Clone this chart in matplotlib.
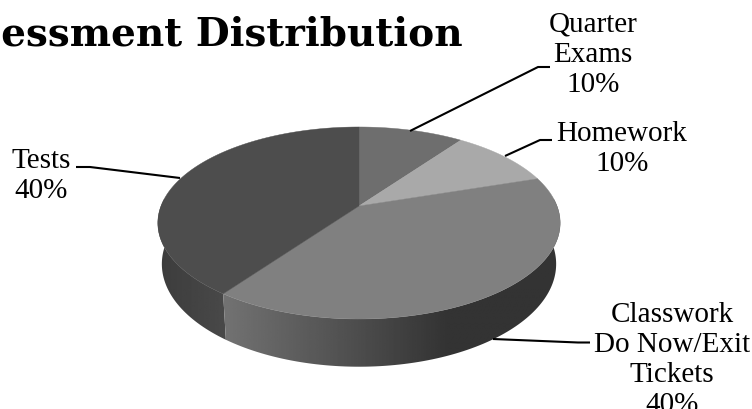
import numpy as np
import matplotlib
matplotlib.use("Agg")
import matplotlib.pyplot as plt
from matplotlib.patches import Polygon

categories = ["Quarter\nExams", "Homework", "Classwork\nDo Now/Exit\nTickets", "Tests"]
values = [10, 10, 40, 40]
top_colors = ["#6e6e6e", "#a9a9a9", "#808080", "#4d4d4d"]
title = "Assessment Distribution"

W, H = 752, 410
cx, cy = 359, 207      # apex of the pie on the canvas
K, A, B = 0.177, 93, 198
MID, DEPTH, BOT_X, BOT_Y = -17, 41, 0.98, 1.07


def project(theta, bottom=False):
    """theta in degrees, clockwise from 12 o'clock on a unit circle."""
    t = np.radians(theta)
    x, y = np.sin(t), np.cos(t)
    X = B * x / (1 + K * y)
    Y = A * y / (1 + K * y)
    if bottom:
        X, Y = BOT_X * X, BOT_Y * (Y - MID) + MID - DEPTH
    return cx + X, cy - Y


fig = plt.figure(figsize=(W / 100, H / 100), dpi=100, facecolor="white")
ax = fig.add_axes([0, 0, 1, 1])
ax.axis("off")

share = np.asarray(values, float) / sum(values) * 360
edges = np.concatenate([[0], np.cumsum(share)])


def band(a, b):
    th = np.linspace(a, b, 120)
    xt, yt = project(th)
    xb, yb = project(th, bottom=True)
    return np.column_stack([np.r_[xt, xb[::-1]], np.r_[yt, yb[::-1]]])


# rim: tests and classwork are the two visible faces
rim_tests = band(edges[3], edges[4])
im = ax.imshow(np.linspace(0.235, 0.30, 64)[None, :], cmap="gray", vmin=0, vmax=1,
               extent=[155, 245, 380, 200], aspect="auto", zorder=1)
im.set_clip_path(Polygon(rim_tests, transform=ax.transData))

rim_class = band(edges[2], edges[3])
ramp = np.interp(np.linspace(215, 565, 200), [222, 450, 565], [0.45, 0.2, 0.2])
im = ax.imshow(ramp[None, :], cmap="gray", vmin=0, vmax=1,
               extent=[215, 565, 380, 200], aspect="auto", zorder=2)
im.set_clip_path(Polygon(rim_class, transform=ax.transData))

# top surface
for i, c in enumerate(top_colors):
    th = np.linspace(edges[i], edges[i + 1], 120)
    xs, ys = project(th)
    ax.fill(np.r_[cx, xs], np.r_[cy, ys], color=c, lw=0.3, zorder=3)

# leaders
leaders = [
    ([410, 538, 550], [132, 68, 68]),
    ([505, 540, 552], [157, 141, 141]),
    ([493, 578, 590], [340, 343.5, 343.5]),
    ([180, 90, 76], [179, 168, 168]),
]
for lx, ly in leaders:
    ax.plot(lx, ly, color="black", lw=1.5, zorder=4, solid_capstyle="butt")

# labels
label_pos = [(593, 55), (622, 149), (672, 360), (41, 176)]
for cat, v, (x, y) in zip(categories, values, label_pos):
    ax.text(x, y, f"{cat}\n{v}%", ha="center", va="center", multialignment="center",
            family="Liberation Serif", fontsize=21, linespacing=1.2, color="black", zorder=5)

ax.text(463, 45, title, ha="right", va="baseline", family="DejaVu Serif",
        fontweight="bold", fontsize=28.1, color="black", zorder=5)

ax.set_xlim(0, W)
ax.set_ylim(H, 0)
fig.savefig("out.png", dpi=100, facecolor="white")
